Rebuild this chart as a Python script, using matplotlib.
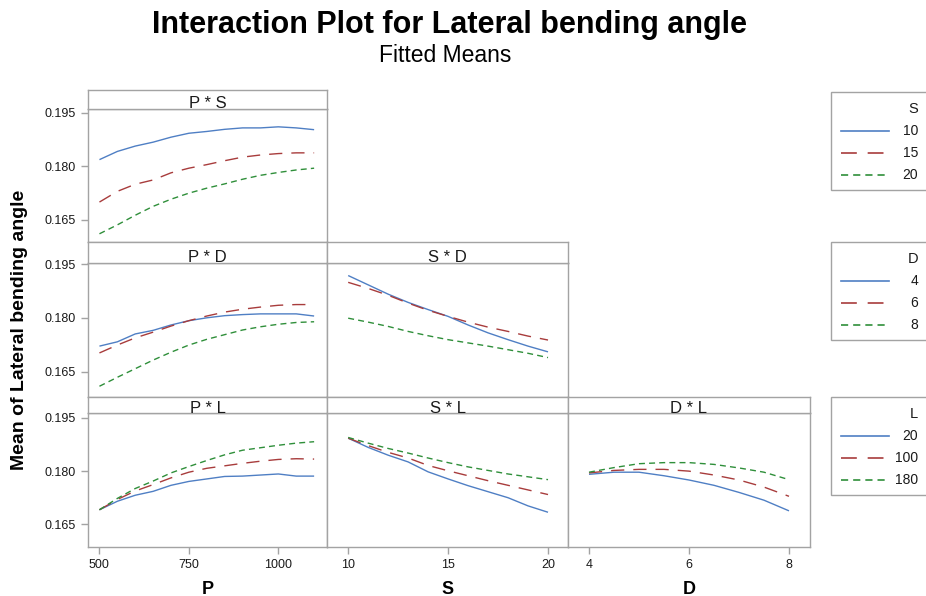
import matplotlib
matplotlib.use("Agg")
import matplotlib.pyplot as plt
from matplotlib.lines import Line2D
from matplotlib.patches import Rectangle

# ---- factor levels ----
p_levels = [500, 550, 600, 650, 700, 750, 800, 850, 900, 950, 1000, 1050, 1100]
s_levels = [10, 11, 12, 13, 14, 15, 16, 17, 18, 19, 20]
d_levels = [4, 4.5, 5, 5.5, 6, 6.5, 7, 7.5, 8]

s_groups = ["10", "15", "20"]
d_groups = ["4", "6", "8"]
l_groups = ["20", "100", "180"]

# ---- fitted means: P * S ----
ps_s10 = [0.1819, 0.1842, 0.1857, 0.1868, 0.1882, 0.1893, 0.1898, 0.1904, 0.1908, 0.1908, 0.1911, 0.1908, 0.1903]
ps_s15 = [0.1700, 0.1730, 0.1750, 0.1762, 0.1782, 0.1795, 0.1805, 0.1816, 0.1826, 0.1832, 0.1836, 0.1838, 0.1838]
ps_s20 = [0.1611, 0.1636, 0.1663, 0.1688, 0.1708, 0.1725, 0.1739, 0.1751, 0.1764, 0.1775, 0.1783, 0.1790, 0.1795]

# ---- P * D ----
pd_d4 = [0.1721, 0.1733, 0.1755, 0.1765, 0.1780, 0.1792, 0.1800, 0.1806, 0.1809, 0.1811, 0.1811, 0.1811, 0.1805]
pd_d6 = [0.1702, 0.1724, 0.1744, 0.1760, 0.1777, 0.1792, 0.1805, 0.1816, 0.1824, 0.1830, 0.1835, 0.1837, 0.1837]
pd_d8 = [0.1609, 0.1634, 0.1658, 0.1682, 0.1704, 0.1724, 0.1740, 0.1753, 0.1766, 0.1775, 0.1782, 0.1787, 0.1789]

# ---- P * L ----
pl_l20 = [0.1691, 0.1715, 0.1732, 0.1743, 0.1760, 0.1771, 0.1778, 0.1785, 0.1786, 0.1789, 0.1792, 0.1786, 0.1786]
pl_l100 = [0.1691, 0.1720, 0.1744, 0.1762, 0.1781, 0.1797, 0.1808, 0.1815, 0.1822, 0.1828, 0.1833, 0.1835, 0.1834]
pl_l180 = [0.1691, 0.1723, 0.1751, 0.1772, 0.1795, 0.1813, 0.1830, 0.1846, 0.1859, 0.1866, 0.1873, 0.1879, 0.1883]

# ---- S * D ----
sd_d4 = [0.1918, 0.1892, 0.1866, 0.1843, 0.1823, 0.1804, 0.1780, 0.1758, 0.1739, 0.1721, 0.1705]
sd_d6 = [0.1899, 0.1882, 0.1863, 0.1841, 0.1821, 0.1804, 0.1788, 0.1774, 0.1762, 0.1749, 0.1738]
sd_d8 = [0.1799, 0.1788, 0.1776, 0.1762, 0.1750, 0.1739, 0.1730, 0.1721, 0.1711, 0.1701, 0.1689]

# ---- S * L ----
sl_l20 = [0.1893, 0.1867, 0.1845, 0.1826, 0.1798, 0.1778, 0.1759, 0.1742, 0.1725, 0.1702, 0.1684]
sl_l100 = [0.1893, 0.1872, 0.1853, 0.1837, 0.1816, 0.1801, 0.1787, 0.1773, 0.1760, 0.1747, 0.1734]
sl_l180 = [0.1895, 0.1879, 0.1864, 0.1851, 0.1837, 0.1824, 0.1812, 0.1802, 0.1792, 0.1784, 0.1776]

# ---- D * L ----
dl_l20 = [0.1791, 0.1797, 0.1797, 0.1787, 0.1775, 0.1760, 0.1740, 0.1718, 0.1688]
dl_l100 = [0.1795, 0.1802, 0.1805, 0.1805, 0.1800, 0.1789, 0.1775, 0.1755, 0.1729]
dl_l180 = [0.1797, 0.1810, 0.1821, 0.1824, 0.1824, 0.1819, 0.1809, 0.1797, 0.1776]

y_ticks = [0.165, 0.180, 0.195]
p_ticks = [500, 750, 1000]
s_ticks = [10, 15, 20]
d_ticks = [4, 6, 8]

# ---- styling ----
FONT = "Liberation Sans"
plt.rcParams["font.family"] = [FONT, "DejaVu Sans"]
FRAME = "#a3a3a3"
TEXT = "#1a1a1a"
styles = [
    dict(color="#4f7fc4", linestyle="-"),
    dict(color="#a83c3c", linestyle=(0, (9.5, 6.5))),
    dict(color="#2f8f3a", linestyle=(0, (4.3, 3.0))),
]
LW = 1.0

W, H = 926, 596
fig = plt.figure(figsize=(W / 100, H / 100), dpi=100)
fig.patch.set_facecolor("white")


def box(x0, x1, y_top, y_bot):
    return [x0 / W, 1 - y_bot / H, (x1 - x0) / W, (y_bot - y_top) / H]


cols = [(88, 327), (327, 568), (568, 810)]
# (header top, data top, data bottom)
rows = [(90, 109, 242), (242, 263, 397), (397, 413, 547)]
row_ylims = [(0.1588, 0.1961), (0.1579, 0.1953), (0.1586, 0.1964)]
col_xlims = [(468, 1136), (8.94, 21.0), (3.58, 8.42)]
col_ticks = [p_ticks, s_ticks, d_ticks]
col_names = ["P", "S", "D"]
col_levels = [p_levels, s_levels, d_levels]
row_names = ["S", "D", "L"]

panels = {
    (0, 0): [ps_s10, ps_s15, ps_s20],
    (1, 0): [pd_d4, pd_d6, pd_d8],
    (2, 0): [pl_l20, pl_l100, pl_l180],
    (1, 1): [sd_d4, sd_d6, sd_d8],
    (2, 1): [sl_l20, sl_l100, sl_l180],
    (2, 2): [dl_l20, dl_l100, dl_l180],
}

for (r, c), series in panels.items():
    htop, dtop, dbot = rows[r]
    x0, x1 = cols[c]
    ax = fig.add_axes(box(x0, x1, dtop, dbot))
    for vals, st in zip(series, styles):
        ax.plot(col_levels[c], vals, lw=LW, solid_capstyle="butt", **st)
    ax.set_xlim(*col_xlims[c])
    ax.set_ylim(*row_ylims[r])
    for sp in ax.spines.values():
        sp.set_color(FRAME)
        sp.set_linewidth(1.0)
    ax.set_yticks(y_ticks)
    ax.set_xticks(col_ticks[c])
    ax.tick_params(colors=FRAME, labelcolor=TEXT, labelsize=9, length=5, width=1.0)
    if c == 0:
        ax.set_yticklabels([f"{v:.3f}" for v in y_ticks])
    else:
        ax.tick_params(axis="y", left=False, labelleft=False)
    if r == 2:
        ax.set_xticklabels([str(v) for v in col_ticks[c]])
        ax.tick_params(axis="x", pad=4)
    else:
        ax.tick_params(axis="x", bottom=False, labelbottom=False)

    # header strip with the interaction name
    hx = fig.add_axes(box(x0, x1, htop, dtop))
    hx.set_xticks([])
    hx.set_yticks([])
    for sp in hx.spines.values():
        sp.set_color(FRAME)
        sp.set_linewidth(1.0)
    hx.text(0.5, 0.03, f"{col_names[c]} * {row_names[r]}", ha="center", va="baseline",
            fontsize=12, color=TEXT, transform=hx.transAxes)

# axis labels under the bottom row
for c, name in enumerate(col_names):
    xc = (cols[c][0] + cols[c][1]) / 2
    fig.text(xc / W, 1 - 589 / H, name, ha="center", va="center",
             fontsize=13, fontweight="bold", color="black")

fig.text(20 / W, 1 - 330 / H, "Mean of Lateral bending angle", rotation=90,
         ha="center", va="center", fontsize=14, fontweight="bold", color="black")

# titles
fig.text(449 / W, 1 - 25 / H, "Interaction Plot for Lateral bending angle",
         ha="center", va="center", fontsize=22, fontweight="bold", color="black")
fig.text(445 / W, 1 - 56 / H, "Fitted Means", ha="center", va="center",
         fontsize=16.5, color="black")

# legends, one per trace factor
legend_tops = [92, 242, 397]
legend_labels = [s_groups, d_groups, l_groups]
for top, title, labels in zip(legend_tops, row_names, legend_labels):
    fig.add_artist(Rectangle((831 / W, 1 - (top + 98) / H), 120 / W, 98 / H,
                             transform=fig.transFigure, facecolor="white",
                             edgecolor=FRAME, linewidth=1.0))
    fig.text(918 / W, 1 - (top + 17) / H, title, ha="right", va="center",
             fontsize=10.5, color=TEXT)
    for i, (lab, st) in enumerate(zip(labels, styles)):
        yy = 1 - (top + 39 + 22 * i) / H
        fig.add_artist(Line2D([841 / W, 889 / W], [yy, yy], transform=fig.transFigure,
                              lw=1.2, **st))
        fig.text(918 / W, yy, lab, ha="right", va="center", fontsize=10, color=TEXT)

fig.savefig("out.png", dpi=100, facecolor="white")
